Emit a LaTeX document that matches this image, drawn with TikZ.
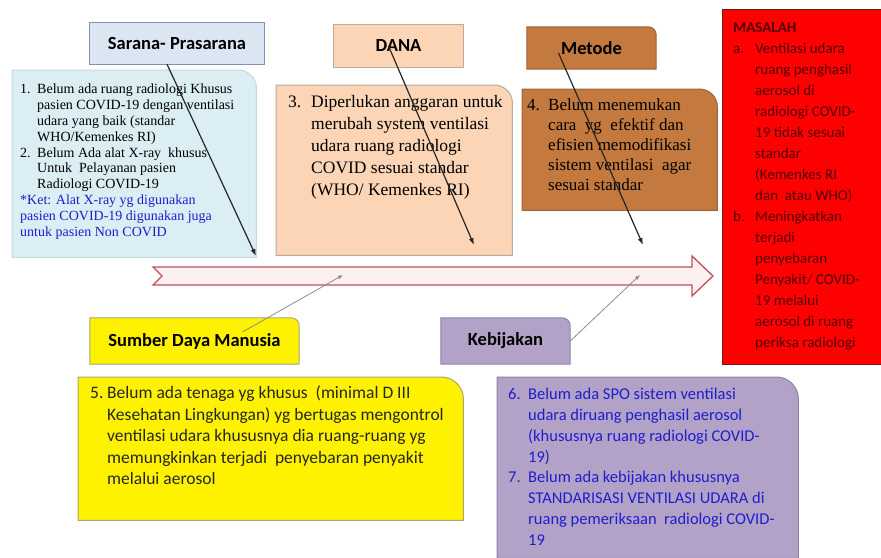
\documentclass[tikz,border=0pt]{standalone}
\usepackage{fontspec}
\setmainfont{Liberation Serif}
\newfontfamily\calfont{Carlito}
\usetikzlibrary{arrows.meta,backgrounds}

\definecolor{sarfill}{RGB}{220,230,242}
\definecolor{sardraw}{RGB}{128,146,176}
\definecolor{biru}{RGB}{218,238,243}
\definecolor{birudraw}{RGB}{196,218,226}
\definecolor{persik}{RGB}{251,213,181}
\definecolor{persikdraw}{RGB}{188,170,156}
\definecolor{coklat}{RGB}{196,121,62}
\definecolor{coklatdraw}{RGB}{150,100,62}
\definecolor{merahdraw}{RGB}{120,20,20}
\definecolor{kuningdraw}{RGB}{168,168,112}
\definecolor{ungu}{RGB}{179,162,199}
\definecolor{ungudraw}{RGB}{142,130,166}
\definecolor{panahmerah}{RGB}{192,80,90}
\definecolor{panahisi}{RGB}{253,240,240}
\definecolor{tekbiru}{RGB}{30,30,205}
\definecolor{tekmerah}{RGB}{80,0,0}

% kotak dengan satu sudut kanan atas membulat
\newcommand{\sudut}[3]{%
  \draw[#3] (#1.south west) -- (#1.north west)
    -- ([xshift=-#2pt]#1.north east)
    .. controls ([xshift=-0.45*#2pt]#1.north east) and ([yshift=-0.45*#2pt]#1.north east)
    .. ([yshift=-#2pt]#1.north east)
    -- (#1.south east) -- cycle;}

\begin{document}
\begin{tikzpicture}[x=1pt,y=-1pt,
    judul/.style={font=\calfont\bfseries\fontsize{18.5}{22}\selectfont, inner sep=0pt},
    kotak/.style={anchor=north west, inner sep=0pt},
    isi/.style={anchor=north west, inner sep=0pt, align=left},
    panahhitam/.style={draw=black!85, line width=1.2pt, -{Latex[length=7pt,width=5pt]}},
    panahabu/.style={draw=black!45, line width=0.8pt, -{Latex[length=5pt,width=4pt]}}]
    \useasboundingbox (0,0) rectangle (881,557);

    % kepala tulang ikan
    \node[judul, minimum width=174pt, minimum height=41pt] (sarana) at (177,43.5) {Sarana- Prasarana};
    \node[judul, minimum width=129pt, minimum height=42pt] (dana) at (398.5,46) {DANA};
    \node[judul, minimum width=129pt, minimum height=42pt] (metode) at (591.5,48) {Metode};
    \node[judul, minimum width=209pt, minimum height=46pt] (sdm) at (194.5,341) {Sumber Daya Manusia};
    \node[judul, minimum width=129pt, minimum height=46pt] (kebijakan) at (505.5,341) {Kebijakan};

    % kotak isi
    \node[kotak, minimum width=244pt, minimum height=187pt] (kotakA) at (12,70) {};
    \node[kotak, minimum width=236pt, minimum height=170pt] (kotakB) at (276,85) {};
    \node[kotak, minimum width=195pt, minimum height=121pt] (kotakC) at (522,89) {};
    \node[kotak, minimum width=385pt, minimum height=143pt] (kotakD) at (78,377) {};
    \node[kotak, minimum width=301pt, minimum height=181pt] (kotakE) at (497,377) {};
    \node[kotak, minimum width=159pt, minimum height=355pt] (masalah) at (722,9) {};

    \begin{scope}[on background layer]
        \draw[fill=sarfill, draw=sardraw, line width=1pt] (sarana.south west) rectangle (sarana.north east);
        \draw[fill=persik, draw=persikdraw, line width=1pt] (dana.south west) rectangle (dana.north east);
        \sudut{metode}{8}{fill=coklat, draw=coklatdraw, line width=1pt}
        \sudut{sdm}{8}{fill=yellow, draw=kuningdraw, line width=1pt}
        \sudut{kebijakan}{8}{fill=ungu, draw=ungudraw, line width=1pt}
        \sudut{kotakA}{18}{fill=biru, draw=birudraw, line width=1pt}
        \sudut{kotakB}{18}{fill=persik, draw=persikdraw, line width=1pt}
        \sudut{kotakC}{18}{fill=coklat, draw=coklatdraw, line width=1pt}
        \sudut{kotakD}{22}{fill=yellow, draw=kuningdraw, line width=1pt}
        \sudut{kotakE}{22}{fill=ungu, draw=ungudraw, line width=1pt}
        \draw[fill=red, draw=merahdraw, line width=1pt] (masalah.south west) rectangle (masalah.north east);
    \end{scope}

    % teks
    \node[isi, font=\fontsize{14}{15.8}\selectfont] (teksA) at ([xshift=8pt,yshift=-14pt]kotakA.north west) {%
        \makebox[17pt][l]{1.}Belum ada ruang radiologi Khusus\\
        \hspace*{17pt}pasien COVID-19 dengan ventilasi\\
        \hspace*{17pt}udara yang baik (standar\\
        \hspace*{17pt}WHO/Kemenkes RI)\\
        \makebox[17pt][l]{2.}Belum Ada alat X-ray\ \ khusus\\
        \hspace*{17pt}Untuk\ \ Pelayanan pasien\\
        \hspace*{17pt}Radiologi COVID-19\\
        \textcolor{tekbiru}{*Ket: Alat X-ray yg digunakan}\\
        \textcolor{tekbiru}{pasien COVID-19 digunakan juga}\\
        \textcolor{tekbiru}{untuk pasien Non COVID}};
    \node[isi, font=\fontsize{17.5}{22}\selectfont] (teksB) at ([xshift=12pt,yshift=-10pt]kotakB.north west) {%
        \makebox[23pt][l]{3.}Diperlukan anggaran untuk\\
        \hspace*{23pt}merubah system ventilasi\\
        \hspace*{23pt}udara ruang radiologi\\
        \hspace*{23pt}COVID sesuai standar\\
        \hspace*{23pt}(WHO/ Kemenkes RI)};
    \node[isi, font=\fontsize{17}{20}\selectfont] (teksC) at ([xshift=5pt,yshift=-10pt]kotakC.north west) {%
        \makebox[21pt][l]{4.}Belum menemukan\\
        \hspace*{21pt}cara\ \ yg\ \ efektif dan\\
        \hspace*{21pt}efisien memodifikasi\\
        \hspace*{21pt}sistem ventilasi\ \ agar\\
        \hspace*{21pt}sesuai standar};
    \node[isi, font=\calfont\fontsize{17.5}{21.4}\selectfont, text=black!85] (teksD) at ([xshift=12pt,yshift=-9pt]kotakD.north west) {%
        \makebox[17pt][l]{5.}Belum ada tenaga yg khusus\ \ (minimal D III\\
        \hspace*{17pt}Kesehatan Lingkungan) yg bertugas mengontrol\\
        \hspace*{17pt}ventilasi udara khususnya dia ruang-ruang yg\\
        \hspace*{17pt}memungkinkan terjadi\ \ penyebaran penyakit\\
        \hspace*{17pt}melalui aerosol};
    \node[isi, font=\calfont\fontsize{16.5}{20.8}\selectfont, text=tekbiru] (teksE) at ([xshift=11pt,yshift=-11pt]kotakE.north west) {%
        \makebox[20pt][l]{6.}Belum ada SPO sistem ventilasi\\
        \hspace*{20pt}udara diruang penghasil aerosol\\
        \hspace*{20pt}(khususnya ruang radiologi COVID-\\
        \hspace*{20pt}19)\\
        \makebox[20pt][l]{7.}Belum ada kebijakan khususnya\\
        \hspace*{20pt}STANDARISASI VENTILASI UDARA di\\
        \hspace*{20pt}ruang pemeriksaan\ \ radiologi COVID-\\
        \hspace*{20pt}19};
    \node[isi, font=\calfont\fontsize{15}{21}\selectfont, text=tekmerah] (teksM) at ([xshift=11pt,yshift=-13pt]masalah.north west) {%
        \textbf{MASALAH}\\
        \makebox[22pt][l]{a.}Ventilasi udara\\
        \hspace*{22pt}ruang penghasil\\
        \hspace*{22pt}aerosol di\\
        \hspace*{22pt}radiologi COVID-\\
        \hspace*{22pt}19 tidak sesuai\\
        \hspace*{22pt}standar\\
        \hspace*{22pt}(Kemenkes RI\\
        \hspace*{22pt}dan\ \ atau WHO)\\
        \makebox[22pt][l]{b.}Meningkatkan\\
        \hspace*{22pt}terjadi\\
        \hspace*{22pt}penyebaran\\
        \hspace*{22pt}Penyakit/ COVID-\\
        \hspace*{22pt}19 melalui\\
        \hspace*{22pt}aerosol di ruang\\
        \hspace*{22pt}periksa radiologi};

    % tulang utama
    \draw[draw=panahmerah, fill=panahisi, line width=1.3pt, line join=miter]
        (153,267) -- (692,267) -- (692,256) -- (713,276) -- (692,296) -- (692,285)
        -- (153,285) -- (162,276) -- cycle;
    \coordinate (t1) at (256,256);
    \coordinate (t2) at (474,245);
    \coordinate (t3) at (643,245);
    \coordinate (t4) at (343,275);
    \coordinate (t5) at (640,275);

    % panah sebab
    \draw[panahhitam] ([xshift=-10pt]sarana.south) -- (t1);
    \draw[panahhitam] ([xshift=-10pt]dana.center) -- (t2);
    \draw[panahhitam] ([xshift=-33pt,yshift=-5pt]metode.center) -- (t3);
    \draw[panahabu] ([xshift=48pt,yshift=9pt]sdm.center) -- (t4);
    \draw[panahabu] (kebijakan.east) -- (t5);
\end{tikzpicture}
\end{document}
